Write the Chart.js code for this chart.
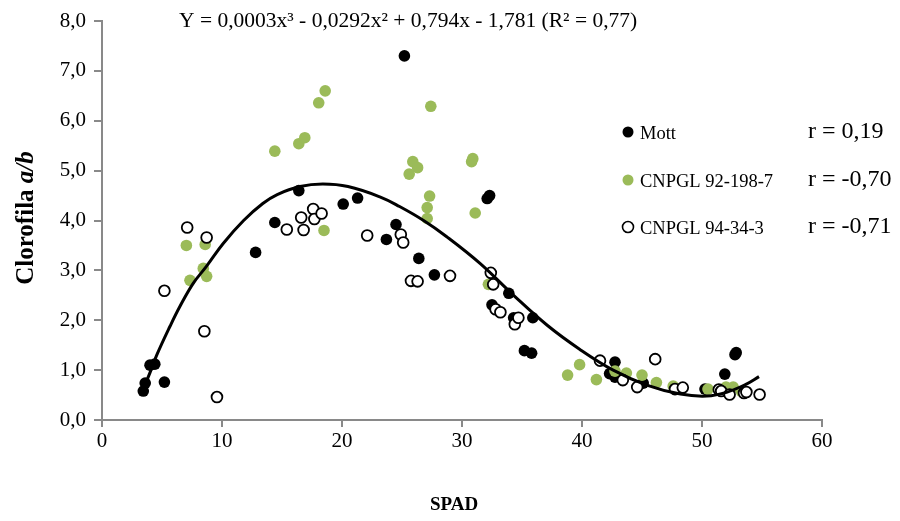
<!DOCTYPE html>
<html lang="pt">
<head>
  <meta charset="UTF-8" />
  <title>Clorofila a/b x SPAD</title>
  <script src="https://cdn.jsdelivr.net/npm/chart.js"></script>
  <style>
    body { margin: 0; background: #fff; }
    .wrap { width: 900px; height: 521px; position: relative; }
  </style>
</head>
<body>
  <div class="wrap"><canvas id="grafico" width="900" height="521"></canvas></div>

  <script>
    // Mott (pontos pretos)
    const spadMott = [3.44, 3.6, 4.0, 4.4, 5.2, 12.8, 14.4, 16.4, 20.1, 21.3, 23.7, 24.5, 25.2, 26.4, 27.7,
      32.1, 32.3, 32.5, 33.9, 34.3, 35.9, 35.2, 35.8, 42.75, 42.3, 42.75, 45.1, 50.25, 51.9, 52.75, 52.85];
    const clMott = [0.58, 0.74, 1.1, 1.12, 0.76, 3.36, 3.96, 4.6, 4.33, 4.45, 3.62, 3.92, 7.3, 3.24, 2.91,
      4.44, 4.5, 2.31, 2.54, 2.05, 2.05, 1.39, 1.34, 1.16, 0.93, 0.86, 0.74, 0.62, 0.92, 1.31, 1.35];

    // CNPGL 92-198-7 (pontos verdes)
    const spad92 = [7.03, 7.33, 8.44, 8.6, 8.72, 14.4, 16.4, 16.9, 18.06, 18.6, 18.5, 25.6, 25.9, 26.3, 27.1,
      27.1, 27.3, 27.4, 30.8, 30.9, 31.1, 32.2, 38.8, 39.8, 41.2, 42.75, 43.7, 45, 46.2, 47.6, 50.5, 52, 52.6, 53.3];
    const cl92 = [3.5, 2.8, 3.04, 3.52, 2.88, 5.39, 5.54, 5.66, 6.36, 6.6, 3.8, 4.93, 5.18, 5.06, 4.04,
      4.26, 4.49, 6.29, 5.18, 5.24, 4.15, 2.72, 0.9, 1.11, 0.81, 0.98, 0.94, 0.9, 0.75, 0.68, 0.62, 0.66, 0.66, 0.57];

    // CNPGL 94-34-3 (círculos abertos)
    const spad94 = [5.2, 7.1, 8.53, 8.72, 9.58, 15.4, 16.6, 16.8, 17.6, 17.7, 18.3, 22.1, 24.9, 25.1, 25.75,
      26.3, 29, 32.4, 32.6, 32.8, 33.2, 34.4, 34.7, 41.5, 43.4, 44.6, 46.1, 47.75, 48.4, 51.4, 51.6, 52.3, 53.5, 53.7, 54.8];
    const cl94 = [2.59, 3.86, 1.78, 3.66, 0.46, 3.82, 4.06, 3.81, 4.23, 4.03, 4.14, 3.7, 3.72, 3.56, 2.79,
      2.78, 2.89, 2.95, 2.72, 2.22, 2.16, 1.92, 2.05, 1.19, 0.8, 0.66, 1.22, 0.62, 0.65, 0.61, 0.58, 0.51, 0.54, 0.56, 0.51];

    // linha de tendência
    const spadCurva = [3.44, 4.0, 4.56, 5.67, 6.5, 7.6, 8.7, 10.1, 11.8, 13.4, 14.6, 16.5, 18.4, 20.5, 23.2,
      24.8, 26.8, 28.7, 31.5, 34.3, 37.1, 39.8, 42.6, 45.4, 48.2, 50.4, 52.1, 53.7, 54.75];
    const clCurva = [0.62, 0.95, 1.3, 1.88, 2.28, 2.74, 3.08, 3.54, 4.0, 4.34, 4.52, 4.68, 4.73, 4.68, 4.47,
      4.28, 4.0, 3.68, 3.14, 2.5, 1.9, 1.42, 1.0, 0.7, 0.52, 0.48, 0.56, 0.72, 0.87];

    const nomes = ['Mott', 'CNPGL 92-198-7', 'CNPGL 94-34-3'];
    const valoresR = ['r = 0,19', 'r = -0,70', 'r = -0,71'];
    const equacao = 'Y = 0,0003x³ - 0,0292x² + 0,794x - 1,781 (R² = 0,77)';

    const verde = '#9BBB59';
    const cinza = '#898989';
    const fonte = "'Liberation Serif', 'Times New Roman', serif";

    const pares = (xs, ys) => xs.map((x, i) => ({ x: x, y: ys[i] }));

    // textos extras: equação, títulos dos eixos e legenda
    const textos = {
      id: 'textos',
      afterDraw(chart) {
        const ctx = chart.ctx;
        ctx.save();
        ctx.fillStyle = '#000';
        ctx.textBaseline = 'middle';

        ctx.font = '21.5px ' + fonte;
        ctx.textAlign = 'left';
        ctx.fillText(equacao, 179, 21);

        ctx.font = 'bold 19px ' + fonte;
        ctx.textAlign = 'center';
        ctx.fillText('SPAD', 454, 505);

        // título do eixo y
        ctx.translate(27, 218);
        ctx.rotate(-Math.PI / 2);
        const p1 = 'Clorofila ', p2 = 'a/b';
        ctx.font = 'bold 25px ' + fonte;
        const w1 = ctx.measureText(p1).width;
        ctx.font = 'italic bold 25px ' + fonte;
        const w2 = ctx.measureText(p2).width;
        ctx.textAlign = 'left';
        ctx.font = 'bold 25px ' + fonte;
        ctx.fillText(p1, -(w1 + w2) / 2, 0);
        ctx.font = 'italic bold 25px ' + fonte;
        ctx.fillText(p2, -(w1 + w2) / 2 + w1, 0);
        ctx.restore();

        // legenda
        ctx.save();
        const ys = [132, 180, 227];
        ys.forEach((y, i) => {
          ctx.beginPath();
          ctx.arc(628, y, 5.5, 0, Math.PI * 2);
          if (i === 2) {
            ctx.fillStyle = '#fff';
            ctx.fill();
            ctx.lineWidth = 1.6;
            ctx.strokeStyle = '#000';
            ctx.stroke();
          } else {
            ctx.fillStyle = i === 0 ? '#000' : verde;
            ctx.fill();
          }
          ctx.fillStyle = '#000';
          ctx.textBaseline = 'middle';
          ctx.textAlign = 'left';
          ctx.font = '18.5px ' + fonte;
          ctx.fillText(nomes[i], 640, y + 2);
          ctx.font = '24px ' + fonte;
          ctx.fillText(valoresR[i], 808, y);
        });
        ctx.restore();
      }
    };

    new Chart(document.getElementById('grafico'), {
      type: 'scatter',
      data: {
        datasets: [
          {
            label: 'Tendência',
            data: pares(spadCurva, clCurva),
            showLine: true,
            borderColor: '#000',
            borderWidth: 3,
            pointRadius: 0,
            tension: 0.4,
            order: 0
          },
          {
            label: nomes[2],
            data: pares(spad94, cl94),
            pointRadius: 5.4,
            pointBackgroundColor: '#fff',
            pointBorderColor: '#000',
            pointBorderWidth: 1.8,
            order: 1
          },
          {
            label: nomes[1],
            data: pares(spad92, cl92),
            pointRadius: 5.8,
            pointBackgroundColor: verde,
            pointBorderColor: verde,
            pointBorderWidth: 0,
            order: 2
          },
          {
            label: nomes[0],
            data: pares(spadMott, clMott),
            pointRadius: 5.8,
            pointBackgroundColor: '#000',
            pointBorderColor: '#000',
            pointBorderWidth: 0,
            order: 3
          }
        ]
      },
      options: {
        responsive: false,
        animation: false,
        layout: { padding: { top: 21, right: 78, left: 0, bottom: 0 } },
        plugins: { legend: { display: false }, tooltip: { enabled: false } },
        scales: {
          x: {
            type: 'linear',
            min: 0, max: 60,
            ticks: { stepSize: 10, color: '#000', font: { family: fonte, size: 21 }, padding: 2 },
            grid: { drawOnChartArea: false, drawTicks: true, tickLength: 7, color: cinza, lineWidth: 2 },
            border: { color: cinza, width: 2 },
            afterFit: s => { s.height = 101; }
          },
          y: {
            min: 0, max: 8,
            ticks: {
              stepSize: 1, color: '#000', font: { family: fonte, size: 21 }, padding: 8,
              callback: v => v.toFixed(1).replace('.', ',')
            },
            grid: { drawOnChartArea: false, drawTicks: true, tickLength: 8, color: cinza, lineWidth: 2 },
            border: { color: cinza, width: 2 },
            afterFit: s => { s.width = 102; }
          }
        }
      },
      plugins: [textos]
    });
  </script>
</body>
</html>
